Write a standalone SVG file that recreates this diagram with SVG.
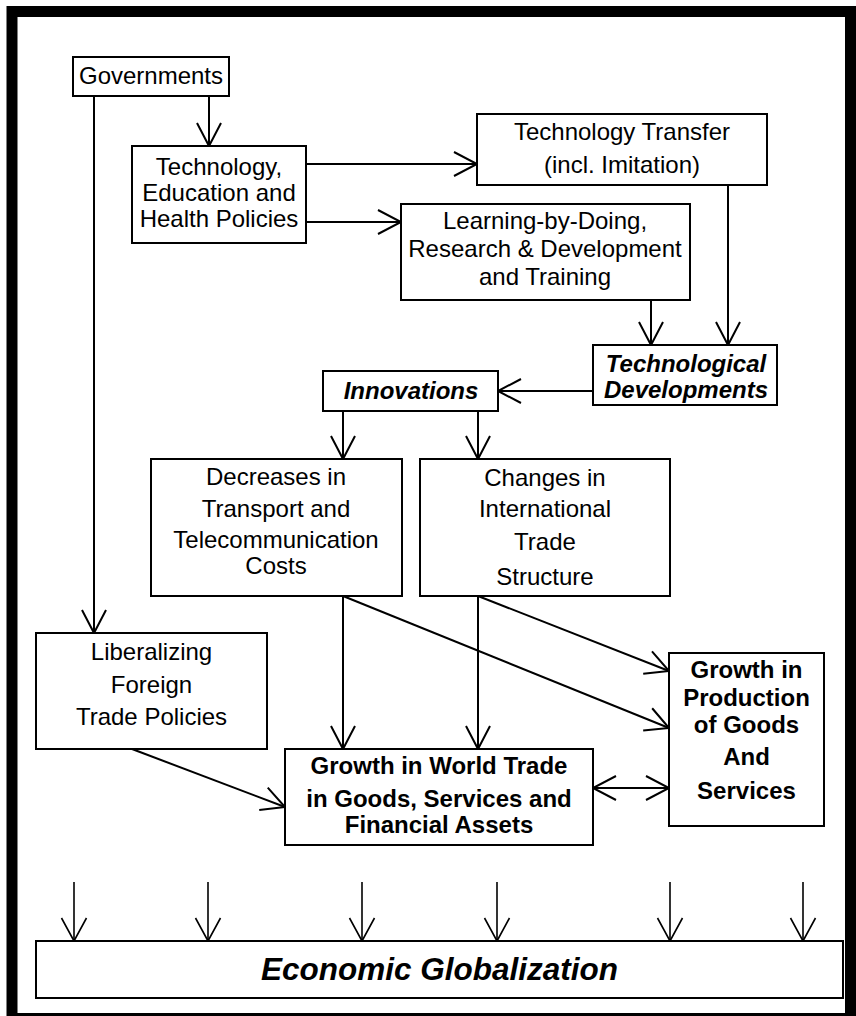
<svg xmlns="http://www.w3.org/2000/svg" width="856" height="1016" viewBox="0 0 856 1016">
<defs>
<marker id="arr" markerUnits="userSpaceOnUse" markerWidth="30" markerHeight="30" viewBox="-26 -15 30 30" refX="0" refY="0" orient="auto-start-reverse">
<path d="M -23,-12 L 0,0 L -23,12" fill="none" stroke="#000" stroke-width="2"/>
</marker>
<marker id="arrs" markerUnits="userSpaceOnUse" markerWidth="30" markerHeight="30" viewBox="-26 -15 30 30" refX="0" refY="0" orient="auto">
<path d="M -23,-12.5 L 0,0 L -23,12.5" fill="none" stroke="#000" stroke-width="1.6"/>
</marker>
</defs>
<style>
.box{fill:#fff;stroke:#000;stroke-width:2}
.t{font-family:"Liberation Sans",Arial,sans-serif;font-size:24px;text-anchor:middle;fill:#000}
.b{font-weight:bold}
.bi{font-weight:bold;font-style:italic}
.c{fill:none;stroke:#000;stroke-width:2;marker-end:url(#arr)}
.cs{fill:none;stroke:#000;stroke-width:1.6;marker-end:url(#arrs)}
</style>
<rect x="0" y="0" width="856" height="1016" fill="#fff"/>
<rect x="12" y="11.5" width="838.5" height="1007" fill="none" stroke="#000" stroke-width="11"/>

<g id="connectors">
<line class="c" x1="209" y1="96" x2="209" y2="146"/>
<line class="c" x1="94" y1="96" x2="94" y2="633"/>
<line class="c" x1="306" y1="164" x2="477" y2="164"/>
<line class="c" x1="306" y1="222" x2="401" y2="222"/>
<line class="c" x1="651" y1="300" x2="651" y2="345"/>
<line class="c" x1="728" y1="185" x2="728" y2="345"/>
<line class="c" x1="593" y1="391" x2="498" y2="391"/>
<line class="c" x1="343" y1="411" x2="343" y2="459"/>
<line class="c" x1="478" y1="411" x2="478" y2="459"/>
<line class="c" x1="343" y1="596" x2="343" y2="749"/>
<line class="c" x1="343" y1="596" x2="669" y2="728"/>
<line class="c" x1="478" y1="596" x2="478" y2="749"/>
<line class="c" x1="478" y1="596" x2="669" y2="671"/>
<line class="c" x1="132" y1="749" x2="285" y2="807"/>
<line class="c" x1="593" y1="788" x2="669" y2="788" style="marker-start:url(#arr)"/>
<line class="cs" x1="74" y1="882" x2="74" y2="941"/>
<line class="cs" x1="208" y1="882" x2="208" y2="941"/>
<line class="cs" x1="362" y1="882" x2="362" y2="941"/>
<line class="cs" x1="497" y1="882" x2="497" y2="941"/>
<line class="cs" x1="670" y1="882" x2="670" y2="941"/>
<line class="cs" x1="803" y1="882" x2="803" y2="941"/>
</g>

<g id="governments">
<rect class="box" x="73" y="57" width="156" height="39"/>
<text class="t" x="151" y="84">Governments</text>
</g>
<g id="policies">
<rect class="box" x="132" y="146" width="174" height="97"/>
<text class="t" x="219" y="175">Technology,</text>
<text class="t" x="219" y="201">Education and</text>
<text class="t" x="219" y="227">Health Policies</text>
</g>
<g id="transfer">
<rect class="box" x="477" y="114" width="290" height="71"/>
<text class="t" x="622" y="140">Technology Transfer</text>
<text class="t" x="622" y="173">(incl. Imitation)</text>
</g>
<g id="learning">
<rect class="box" x="401" y="204" width="289" height="96"/>
<text class="t" x="545" y="229">Learning-by-Doing,</text>
<text class="t" x="545" y="257">Research &amp; Development</text>
<text class="t" x="545" y="285">and Training</text>
</g>
<g id="techdev">
<rect class="box" x="593" y="345" width="184" height="60"/>
<text class="t bi" x="686" y="372">Technological</text>
<text class="t bi" x="686" y="398">Developments</text>
</g>
<g id="innovations">
<rect class="box" x="323" y="371" width="175" height="40"/>
<text class="t bi" x="411" y="399">Innovations</text>
</g>
<g id="decreases">
<rect class="box" x="151" y="459" width="251" height="137"/>
<text class="t" x="276" y="485">Decreases in</text>
<text class="t" x="276" y="517">Transport and</text>
<text class="t" x="276" y="548">Telecommunication</text>
<text class="t" x="276" y="574">Costs</text>
</g>
<g id="changes">
<rect class="box" x="420" y="459" width="250" height="137"/>
<text class="t" x="545" y="486">Changes in</text>
<text class="t" x="545" y="517">International</text>
<text class="t" x="545" y="550">Trade</text>
<text class="t" x="545" y="585">Structure</text>
</g>
<g id="liberalizing">
<rect class="box" x="36" y="633" width="231" height="116"/>
<text class="t" x="151.5" y="660">Liberalizing</text>
<text class="t" x="151.5" y="693">Foreign</text>
<text class="t" x="151.5" y="725">Trade Policies</text>
</g>
<g id="worldtrade">
<rect class="box" x="285" y="749" width="308" height="96"/>
<text class="t b" x="439" y="774">Growth in World Trade</text>
<text class="t b" x="439" y="807">in Goods, Services and</text>
<text class="t b" x="439" y="833">Financial Assets</text>
</g>
<g id="production">
<rect class="box" x="669" y="653" width="155" height="173"/>
<text class="t b" x="746.5" y="678">Growth in</text>
<text class="t b" x="746.5" y="706">Production</text>
<text class="t b" x="746.5" y="733">of Goods</text>
<text class="t b" x="746.5" y="765">And</text>
<text class="t b" x="746.5" y="799">Services</text>
</g>
<g id="globalization">
<rect class="box" x="36" y="941" width="807" height="57"/>
<text class="t bi" x="439.5" y="980" style="font-size:31.5px">Economic Globalization</text>
</g>
</svg>
